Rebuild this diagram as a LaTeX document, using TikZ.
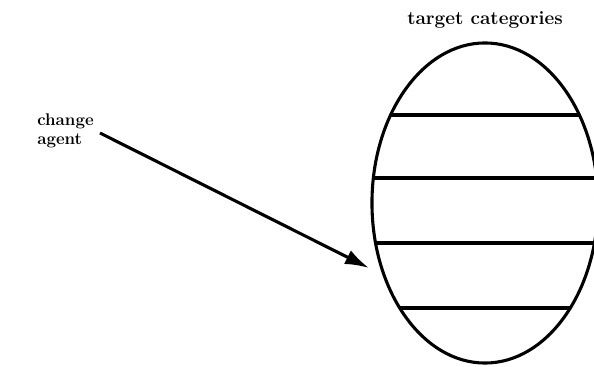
\documentclass[tikz,border=0pt]{standalone}
\usepackage{tikz}
\usetikzlibrary{arrows.meta,positioning,shapes.geometric,calc}

\begin{document}
\begin{tikzpicture}[
  x=0.025cm, y=-0.025cm,
  tag/.style={font=\bfseries\fontsize{12}{13}\selectfont, align=left},
  cats/.style={draw, ellipse, line width=2.2pt, inner sep=0pt, minimum width=5.65cm, minimum height=8cm},
  divider/.style={line width=2.2pt},
  arrow/.style={-{Latex[length=6mm, width=3.8mm]}, line width=2.2pt}
]
\useasboundingbox (0,0) rectangle (594,367);
\node[cats] (cats) at (485,203) {};
\node[tag, font=\bfseries\fontsize{13.5}{15}\selectfont, above=2mm of cats] (title) {target categories};
\node[tag, anchor=north west, inner sep=0pt] (agent) at (37,114) {change\\agent};
\coordinate (tail) at (100,133);
\coordinate (tip) at (369,268);
% dividers across the ellipse
\draw[divider] ($(cats.center)+(-94,-88)$) -- ($(cats.center)+(94,-88)$);
\draw[divider] ($(cats.center)+(-112,-25)$) -- ($(cats.center)+(112,-25)$);
\draw[divider] ($(cats.center)+(-109,40)$) -- ($(cats.center)+(109,40)$);
\draw[divider] ($(cats.center)+(-85,105)$) -- ($(cats.center)+(85,105)$);
\draw[arrow] (tail) -- (tip);
\end{tikzpicture}
\end{document}
